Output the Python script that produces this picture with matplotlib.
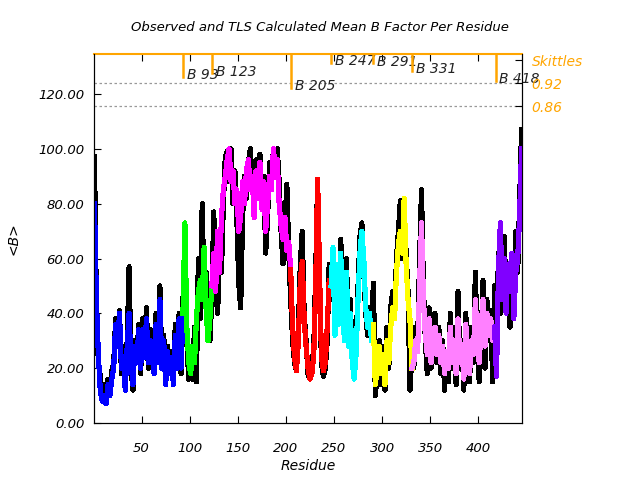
import numpy as np
import matplotlib
matplotlib.use("Agg")
import matplotlib.pyplot as plt

plt.rcParams['font.family'] = ['DejaVu Sans']
plt.rcParams['font.style'] = 'italic'

# residues sampled every second position
residues = np.arange(1, 446, 2)

# observed mean B per residue
observed = [
    97, 42, 22, 17, 10, 14, 8, 16, 12, 19,
    22, 38, 30, 41, 18, 28, 14, 30, 57, 20,
    12, 30, 24, 36, 18, 38, 25, 42, 20, 34,
    26, 18, 40, 24, 50, 22, 32, 16, 28, 20,
    26, 14, 36, 22, 40, 18, 45, 62, 30, 16,
    24, 16, 35, 15, 60, 38, 80, 45, 55, 32,
    30, 45, 77, 50, 40, 62, 55, 80, 97, 99,
    88, 100, 80, 92, 75, 51, 42, 75, 90, 82,
    95, 100, 88, 78, 96, 85, 98, 80, 90, 62,
    75, 95, 86, 100, 90, 100, 88, 70, 58, 72,
    87, 62, 45, 30, 22, 19, 35, 58, 70, 40,
    30, 18, 16, 20, 28, 55, 89, 50, 22, 17,
    20, 30, 58, 45, 64, 35, 55, 40, 67, 50,
    35, 60, 30, 45, 22, 16, 28, 50, 68, 73,
    55, 40, 32, 42, 35, 51, 10, 18, 30, 14,
    28, 12, 35, 20, 42, 48, 40, 60, 70, 81,
    60, 78, 62, 48, 12, 25, 20, 35, 30, 60,
    85, 50, 30, 18, 42, 20, 28, 40, 22, 35,
    18, 30, 12, 25, 15, 40, 20, 35, 14, 48,
    20, 30, 12, 40, 25, 15, 35, 22, 55, 28,
    15, 30, 52, 20, 45, 30, 41, 15, 50, 25,
    62, 40, 55, 68, 45, 55, 35, 50, 42, 70,
    55, 80, 107,
]

# TLS calculated mean B per residue
tls = [
    80, 45, 25, 12, 8, 10, 7, 14, 10, 16,
    20, 36, 28, 40, 20, 24, 12, 28, 40, 22,
    14, 28, 22, 34, 20, 34, 24, 38, 22, 30,
    24, 18, 36, 22, 45, 20, 30, 14, 26, 18,
    24, 14, 32, 20, 38, 20, 40, 73, 35, 22,
    18, 28, 22, 38, 48, 52, 45, 64, 42, 30,
    38, 50, 62, 48, 70, 55, 75, 85, 90, 96,
    100, 88, 92, 80, 85, 70, 75, 88, 80, 92,
    96, 85, 90, 75, 92, 82, 95, 78, 88, 70,
    80, 90, 85, 100, 92, 96, 80, 72, 67, 75,
    63, 66, 56, 35, 24, 19, 30, 52, 59, 38,
    28, 20, 16, 18, 25, 50, 89, 55, 24, 19,
    22, 35, 52, 50, 64, 32, 58, 36, 62, 40,
    30, 55, 28, 40, 22, 16, 25, 45, 62, 70,
    60, 42, 35, 40, 30, 36, 14, 20, 28, 18,
    25, 14, 30, 22, 35, 42, 38, 55, 65, 70,
    62, 82, 58, 45, 38, 20, 22, 30, 26, 50,
    73, 45, 32, 25, 38, 22, 30, 35, 25, 32,
    22, 28, 18, 26, 20, 35, 22, 30, 18, 38,
    22, 28, 16, 36, 26, 18, 30, 25, 45, 30,
    22, 35, 45, 28, 40, 32, 38, 30, 35, 17,
    55, 73, 45, 60, 40, 58, 48, 62, 38, 55,
    60, 75, 100,
]

# TLS segment boundaries (first/last residue) and colours
seg_start = [1, 93, 123, 205, 247, 291, 331, 417]
seg_end = [93, 123, 205, 247, 291, 331, 417, 445]
seg_colors = ['#0000ff', '#00ff00', '#ff00ff', '#ff0000',
              '#00ffff', '#ffff00', '#ff80ff', '#8000ff']

# skittles markers at top
skittle_res = [93, 123, 205, 247, 291, 331, 418]
skittle_bottom = [126.3, 127.6, 122.3, 131.4, 131.2, 128.5, 124.8]
skittle_labels = ['B 93', 'B 123', 'B 205', 'B 247', 'B 291', 'B 331', 'B 418']
ref_levels = [123.9, 115.5]
ref_labels = ['0.92', '0.86']

orange = '#ffa500'
ymax = 134.6

fig = plt.figure(figsize=(6.4, 4.8), dpi=100)
ax = fig.add_axes([94/640, 57/480, 428/640, 369/480])

obs = np.array(observed)
tl = np.array(tls)
ax.plot(residues, obs, color='black', lw=3, antialiased=False, zorder=2)
for s, e, c in zip(seg_start, seg_end, seg_colors):
    m = (residues >= s) & (residues <= e)
    ax.plot(residues[m], tl[m], color=c, lw=3, antialiased=False, zorder=3)

for lv in ref_levels:
    ax.axhline(lv, color='#999999', lw=0.9, ls=(0, (2, 2)), zorder=1)

for r, b, lab in zip(skittle_res, skittle_bottom, skittle_labels):
    ax.plot([r, r], [ymax, b], color=orange, lw=1.8, zorder=4, clip_on=False)
    ax.text(r + 4, b + 0.6, lab, fontsize=10, color='#222222', va='center', ha='left')

ax.set_xlim(0.5, 445.5)
ax.set_ylim(0, ymax)
ax.set_xticks([50, 100, 150, 200, 250, 300, 350, 400])
ax.set_yticks([0, 20, 40, 60, 80, 100, 120])
ax.set_yticklabels([f"{v:.2f}" for v in [0, 20, 40, 60, 80, 100, 120]])
ax.tick_params(direction='in', top=True, right=True, labelsize=9.5, length=5)
ax.tick_params(axis='x', pad=14)
ax.tick_params(axis='y', pad=7)
ax.spines['top'].set_color(orange)
ax.spines['top'].set_linewidth(1.5)

ax2 = ax.twinx()
ax2.set_ylim(0, ymax)
ax2.set_yticks([132.4] + ref_levels)
ax2.set_yticklabels(['Skittles'] + ref_labels)
ax2.tick_params(direction='in', length=5, labelsize=10, labelcolor=orange, pad=7)
ax2.spines['top'].set_visible(False)

ax.set_xlabel('Residue', fontsize=10)
ax.xaxis.set_label_coords(0.5, -0.098)
ax.set_ylabel('<B>', fontsize=10)
ax.yaxis.set_label_coords(-0.189, 0.5)
ax.yaxis.label.set_va('center')
fig.text(0.5, 0.943, 'Observed and TLS Calculated Mean B Factor Per Residue',
         ha='center', va='center', fontsize=9.5)

fig.savefig('out.png', dpi=100)
